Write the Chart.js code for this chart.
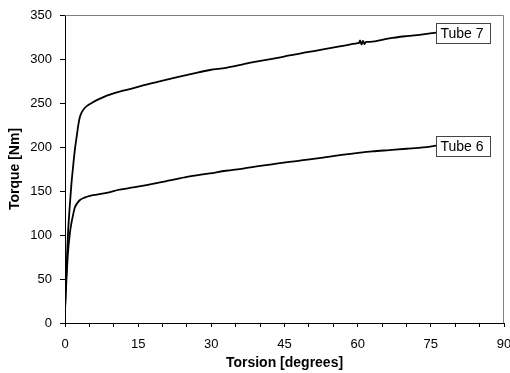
<!DOCTYPE html>
<html>
<head>
<meta charset="utf-8">
<script src="https://cdn.jsdelivr.net/npm/chart.js@4/dist/chart.umd.min.js"></script>
<style>
  html, body { margin: 0; padding: 0; background: #fff; }
  #wrap { width: 510px; height: 373px; }
</style>
</head>
<body>
<div id="wrap"><canvas id="torqueChart"></canvas></div>
<script>
// series names (shown in the boxed labels)
const seriesNames = ['Tube 7', 'Tube 6'];

// Tube 7: torsion [deg] / torque [Nm]
const tube7Deg = [0, 0.3, 0.6, 1.0, 1.3, 1.7, 2.0, 2.4, 2.7, 3.0, 3.4, 4.0, 4.6, 5.5, 6.4, 8.0, 9.2, 11.2, 13.5, 16, 19, 22.8, 26, 29.7, 33, 36.5, 39.2, 43.3, 46, 50, 52.9, 56, 60, 60.3, 60.5, 60.8, 61.1, 61.4, 61.7, 62.5, 66.5, 70, 73.4, 76.1];
const tube7Torque = [15, 60, 100, 135, 157, 180, 196, 212, 224, 233, 239, 244, 247, 250, 253, 257, 259.5, 263, 266, 270, 274, 279, 283, 287.5, 290, 294, 297, 301, 304, 308, 311, 314, 318, 318.5, 321, 316.5, 320.5, 317, 319.5, 319.5, 323.5, 326, 328, 330];

// Tube 6
const tube6Deg = [0, 0.3, 0.6, 1.0, 1.3, 1.7, 2.0, 2.5, 3.0, 4.0, 5.1, 6.5, 8.5, 11.2, 14, 17, 21.5, 25, 29.7, 33, 36.5, 40, 43.3, 46, 48.8, 52.9, 56, 59.7, 63, 66.5, 70, 73.4, 76.1];
const tube6Torque = [15, 50, 79, 102, 113, 124, 131, 136, 139.5, 142.5, 144.5, 146, 148, 151.5, 154, 157, 162, 166, 170, 173, 175.5, 178.5, 181, 183, 185, 188, 190.5, 193, 195, 196.5, 198, 199.5, 201.5];

const toPoints = (xs, ys) => xs.map((x, i) => ({ x: x, y: ys[i] }));

// gray frame on top and right of the plot area
const framePlugin = {
  id: 'frame',
  afterDraw(chart) {
    const { ctx, chartArea: a } = chart;
    ctx.save();
    ctx.strokeStyle = '#808080';
    ctx.lineWidth = 1;
    ctx.beginPath();
    ctx.moveTo(a.left, a.top + 0.5);
    ctx.lineTo(a.right - 0.5, a.top + 0.5);
    ctx.lineTo(a.right - 0.5, a.bottom);
    ctx.stroke();
    ctx.restore();
  }
};

// boxed series names at the end of each curve
const endLabels = {
  id: 'endLabels',
  afterDatasetsDraw(chart) {
    const ctx = chart.ctx;
    ctx.save();
    ctx.font = '14px "Liberation Sans", Arial, sans-serif';
    ctx.textBaseline = 'middle';
    chart.data.datasets.forEach((ds, i) => {
      const pts = chart.getDatasetMeta(i).data;
      const last = pts[pts.length - 1];
      const w = 54, h = 20;
      const x = Math.round(last.x) + 0.5, y = Math.round(last.y - h / 2) + 0.5;
      ctx.fillStyle = '#fff';
      ctx.fillRect(x, y, w, h);
      ctx.strokeStyle = '#444';
      ctx.lineWidth = 1;
      ctx.strokeRect(x, y, w, h);
      ctx.fillStyle = '#000';
      ctx.fillText(ds.label, x + 4, y + h / 2 + 1);
    });
    ctx.restore();
  }
};

const tickFont = { family: '"Liberation Sans", Arial, sans-serif', size: 13 };
const titleFont = { family: '"Liberation Sans", Arial, sans-serif', size: 14, weight: 'bold' };

new Chart(document.getElementById('torqueChart'), {
  type: 'line',
  data: {
    datasets: [
      { label: seriesNames[0], data: toPoints(tube7Deg, tube7Torque) },
      { label: seriesNames[1], data: toPoints(tube6Deg, tube6Torque) }
    ]
  },
  options: {
    responsive: true,
    maintainAspectRatio: false,
    animation: false,
    layout: { padding: { top: 15, right: 6, left: 0, bottom: 0 } },
    elements: {
      line: { borderColor: '#000', borderWidth: 1.8, cubicInterpolationMode: 'monotone' },
      point: { radius: 0 }
    },
    plugins: {
      legend: { display: false },
      tooltip: { enabled: false }
    },
    scales: {
      x: {
        type: 'linear',
        min: 0, max: 90,
        ticks: {
          stepSize: 5, autoSkip: false, maxRotation: 0,
          color: '#000', font: tickFont, padding: 10,
          callback: v => (v % 15 === 0 ? v : '')
        },
        grid: { drawOnChartArea: false, color: '#000', tickLength: 4, tickColor: '#000' },
        border: { color: '#000', width: 1 },
        title: { display: true, text: 'Torsion [degrees]', color: '#000', font: titleFont, padding: { top: 0, bottom: 1 } },
        afterFit(s) { s.height = 50; s.paddingLeft = 0; s.paddingRight = 0; }
      },
      y: {
        min: 0, max: 350,
        ticks: { stepSize: 50, color: '#000', font: tickFont, padding: 8 },
        grid: { drawOnChartArea: false, color: '#000', tickLength: 5, tickColor: '#000' },
        border: { color: '#000', width: 1 },
        title: { display: true, text: 'Torque [Nm]', color: '#000', font: titleFont, padding: { top: 7, bottom: 0 } },
        afterFit(s) { s.width = 65; s.paddingTop = 0; s.paddingBottom = 0; }
      }
    }
  },
  plugins: [framePlugin, endLabels]
});
</script>
</body>
</html>
